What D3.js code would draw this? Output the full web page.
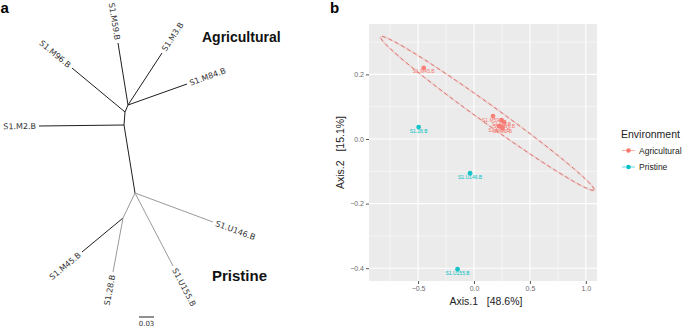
<!DOCTYPE html>
<html lang="en">
<head>
<meta charset="UTF-8">
<script src="https://d3js.org/d3.v7.min.js"></script>
<title>Tree and PCoA</title>
<style>
    body { margin: 0; background: white; }
    svg { display: block; }
    .tiplab { font-family: "DejaVu Sans", sans-serif; font-size: 8px; fill: #333; }
    .ggtext { font-family: "Liberation Sans", Arial, sans-serif; }
</style>
</head>
<body>
<svg id="chart"></svg>
<script>
// ---- panel a: unrooted tree (layout coordinates in substitutions/site) ----
const treeIds     = ["n1", "n2", "n3", "S1.M59.B", "S1.M3.B", "S1.M84.B", "S1.M96.B", "S1.M2.B",
                     "n4", "S1.U146.B", "S1.U155.B", "n5", "S1.M45.B", "S1.28.B"];
const treeParents = [null, "n1", "n2", "n3", "n3", "n3", "n2", "n1",
                     "n1", "n4", "n4", "n4", "n5", "n5"];
const treeX       = [0, 0.002, 0.008, -0.012, 0.076, 0.126, -0.104, -0.170,
                     0.022, 0.178, 0.098, -0.002, -0.084, -0.022];
const treeY       = [0, -0.026, -0.040, -0.164, -0.144, -0.082, -0.114, 0.002,
                     0.136, 0.194, 0.282, 0.186, 0.254, 0.294];
const treeGroup   = ["A", "A", "A", "A", "A", "A", "A", "A",
                     "A", "P", "P", "P", "A", "P"];
const scaleBarLen = 0.03;

// ---- panel b: PCoA ----
const sampleNames = ["S1.M45.B", "S1.M59.B", "S1.M3.B", "S1.M96.B", "S1.M84.B", "S1.M2.B",
                     "S1.28.B", "S1.U146.B", "S1.U155.B"];
const sampleEnv   = ["Agricultural", "Agricultural", "Agricultural", "Agricultural", "Agricultural", "Agricultural",
                     "Pristine", "Pristine", "Pristine"];
const axis1       = [-0.45, 0.17, 0.245, 0.27, 0.225, 0.255, -0.495, -0.035, -0.147];
const axis2       = [0.22, 0.071, 0.058, 0.052, 0.040, 0.035, 0.037, -0.106, -0.403];
const xTicks = [-0.5, 0.0, 0.5, 1.0];
const yTicks = [-0.4, -0.2, 0.0, 0.2];
const envLevels = ["Agricultural", "Pristine"];
const envColors = ["#F8766D", "#00BFC4"];

const W = 685, H = 328;
const svg = d3.select("#chart").attr("width", W).attr("height", H);

// ================= panel a =================
const tx = d3.scaleLinear().domain([0, 1]).range([124, 624]);
const ty = d3.scaleLinear().domain([0, 1]).range([125, 625]);
const nodes = treeIds.map((id, i) => ({id: id, parent: treeParents[i], x: treeX[i], y: treeY[i], g: treeGroup[i]}));
const byId = new Map(nodes.map(d => [d.id, d]));

const ga = svg.append("g");
ga.selectAll("line.branch")
  .data(nodes.filter(d => d.parent))
  .enter().append("line")
  .attr("x1", d => tx(byId.get(d.parent).x))
  .attr("y1", d => ty(byId.get(d.parent).y))
  .attr("x2", d => tx(d.x))
  .attr("y2", d => ty(d.y))
  .attr("stroke", d => d.g == "A" ? "#1e1e1e" : "#9a9a9a")
  .attr("stroke-width", 1);

const tips = nodes.filter(d => !d.id.startsWith("n"));
ga.selectAll("text.tiplab")
  .data(tips)
  .enter().append("text")
  .attr("class", "tiplab")
  .each(function(d) {
      const p = byId.get(d.parent);
      const dx = tx(d.x) - tx(p.x), dy = ty(d.y) - ty(p.y);
      const len = Math.sqrt(dx * dx + dy * dy);
      const ang = Math.atan2(dy, dx) * 180 / Math.PI;
      const lx = tx(d.x) + dx / len * 3, ly = ty(d.y) + dy / len * 3;
      const flip = Math.cos(ang * Math.PI / 180) < 0;
      d3.select(this)
        .attr("transform", `translate(${lx},${ly}) rotate(${flip ? ang + 180 : ang})`)
        .attr("text-anchor", flip ? "end" : "start")
        .attr("dy", "0.35em")
        .text(d.id);
  });

// scale bar
ga.append("line")
  .attr("x1", tx(0.03)).attr("x2", tx(0.03 + scaleBarLen))
  .attr("y1", 317).attr("y2", 317)
  .attr("stroke", "#222").attr("stroke-width", 1);
ga.append("text")
  .attr("class", "tiplab")
  .attr("x", (tx(0.03) + tx(0.03 + scaleBarLen)) / 2).attr("y", 326)
  .attr("text-anchor", "middle").style("font-size", "7px")
  .text(scaleBarLen.toFixed(2));

ga.append("text").attr("class", "ggtext")
  .attr("x", 202).attr("y", 41.5)
  .style("font-size", "14px").style("font-weight", "bold").attr("fill", "#111")
  .text("Agricultural");
ga.append("text").attr("class", "ggtext")
  .attr("x", 212).attr("y", 280.5)
  .style("font-size", "15px").style("font-weight", "bold").attr("fill", "#111")
  .text("Pristine");

svg.append("text").attr("class", "ggtext")
  .attr("x", 0.5).attr("y", 13)
  .style("font-size", "15px").style("font-weight", "bold")
  .text("a");
svg.append("text").attr("class", "ggtext")
  .attr("x", 330).attr("y", 13)
  .style("font-size", "15px").style("font-weight", "bold")
  .text("b");

// ================= panel b =================
const pL = 369, pR = 597, pT = 24, pB = 281;
const x = d3.scaleLinear().domain([(pL - 474) / 111.8, (pR - 474) / 111.8]).range([pL, pR]);
const y = d3.scaleLinear().domain([(139 - pB) / 323, (139 - pT) / 323]).range([pB, pT]);
const color = d3.scaleOrdinal().domain(envLevels).range(envColors);

const gb = svg.append("g");
gb.append("rect")
  .attr("x", pL).attr("y", pT).attr("width", pR - pL).attr("height", pB - pT)
  .attr("fill", "#ebebeb");

const xMinor = [-0.75, -0.25, 0.25, 0.75].filter(v => x(v) > pL && x(v) < pR);
const yMinor = [-0.3, -0.1, 0.1, 0.3].filter(v => y(v) > pT && y(v) < pB);
gb.selectAll("line.xminor").data(xMinor).enter().append("line")
  .attr("x1", d => x(d)).attr("x2", d => x(d)).attr("y1", pT).attr("y2", pB)
  .attr("stroke", "white").attr("stroke-width", 0.5);
gb.selectAll("line.yminor").data(yMinor).enter().append("line")
  .attr("y1", d => y(d)).attr("y2", d => y(d)).attr("x1", pL).attr("x2", pR)
  .attr("stroke", "white").attr("stroke-width", 0.5);
gb.selectAll("line.xmajor").data(xTicks).enter().append("line")
  .attr("x1", d => x(d)).attr("x2", d => x(d)).attr("y1", pT).attr("y2", pB)
  .attr("stroke", "white").attr("stroke-width", 1.1);
gb.selectAll("line.ymajor").data(yTicks).enter().append("line")
  .attr("y1", d => y(d)).attr("y2", d => y(d)).attr("x1", pL).attr("x2", pR)
  .attr("stroke", "white").attr("stroke-width", 1.1);

// axes
const xAxis = gb.append("g").attr("class", "ggtext")
  .attr("transform", `translate(0,${pB})`)
  .call(d3.axisBottom(x).tickValues(xTicks).tickFormat(d3.format(".1f")).tickSize(3).tickPadding(2));
const yAxis = gb.append("g").attr("class", "ggtext")
  .attr("transform", `translate(${pL},0)`)
  .call(d3.axisLeft(y).tickValues(yTicks).tickFormat(d3.format(".1f")).tickSize(3).tickPadding(2));
[xAxis, yAxis].forEach(a => {
    a.select(".domain").remove();
    a.selectAll(".tick line").attr("stroke", "#555");
    a.selectAll(".tick text").attr("fill", "#6a6a6a").style("font-size", "7px")
     .style("font-family", "Liberation Sans, Arial, sans-serif");
});

// 95% normal data ellipse for the agricultural samples
const agr = d3.range(sampleNames.length).filter(i => sampleEnv[i] == "Agricultural");
const mx = d3.mean(agr, i => axis1[i]), my = d3.mean(agr, i => axis2[i]);
const n = agr.length;
const sxx = d3.sum(agr, i => (axis1[i] - mx) ** 2) / (n - 1);
const syy = d3.sum(agr, i => (axis2[i] - my) ** 2) / (n - 1);
const sxy = d3.sum(agr, i => (axis1[i] - mx) * (axis2[i] - my)) / (n - 1);
const ca = Math.sqrt(sxx), cb = sxy / ca, cc = Math.sqrt(syy - cb * cb);
const radius = Math.sqrt(2 * 5.786135); // qf(0.95, 2, 5)
const ell = d3.range(0, 61).map(k => {
    const t = k / 60 * 2 * Math.PI;
    return [mx + radius * ca * Math.cos(t), my + radius * (cb * Math.cos(t) + cc * Math.sin(t))];
});
const line = d3.line().x(d => x(d[0])).y(d => y(d[1]));
gb.append("path").attr("d", line(ell))
  .attr("fill", "none").attr("stroke", "#F8766D").attr("stroke-opacity", 0.18).attr("stroke-width", 2);
gb.append("path").attr("d", line(ell))
  .attr("fill", "none").attr("stroke", "#d9736c").attr("stroke-width", 1)
  .attr("stroke-dasharray", "4,3");

// points and labels
const idx = d3.range(sampleNames.length);
gb.selectAll("text.plab").data(idx).enter().append("text")
  .attr("class", "ggtext")
  .attr("x", i => x(axis1[i])).attr("y", i => y(axis2[i]) + 5.5)
  .attr("text-anchor", "middle")
  .style("font-size", "5px")
  .attr("fill", i => color(sampleEnv[i]))
  .text(i => sampleNames[i]);
gb.selectAll("circle.pt").data(idx).enter().append("circle")
  .attr("cx", i => x(axis1[i])).attr("cy", i => y(axis2[i]))
  .attr("r", 2.4)
  .attr("fill", i => color(sampleEnv[i]))
  .attr("fill-opacity", 0.9);

// axis titles
gb.append("text").attr("class", "ggtext")
  .attr("x", (pL + pR) / 2 + 3).attr("y", 304.5)
  .attr("text-anchor", "middle").style("font-size", "10.5px").attr("fill", "#222")
  .attr("xml:space", "preserve")
  .text("Axis.1   [48.6%]");
gb.append("text").attr("class", "ggtext")
  .attr("transform", `translate(343.5,${(pT + pB) / 2}) rotate(-90)`)
  .attr("text-anchor", "middle").style("font-size", "10.5px").attr("fill", "#222")
  .attr("xml:space", "preserve")
  .text("Axis.2   [15.1%]");

// legend
const lg = svg.append("g").attr("class", "ggtext");
lg.append("text").attr("x", 621).attr("y", 138)
  .style("font-size", "10.5px").attr("fill", "#222").text("Environment");
const keys = lg.selectAll("g.key").data(envLevels).enter().append("g")
  .attr("transform", (d, i) => `translate(0,${150.5 + i * 16.5})`);
keys.append("line").attr("x1", 622).attr("x2", 635).attr("y1", 0).attr("y2", 0)
  .attr("stroke", d => color(d)).attr("stroke-opacity", 0.6).attr("stroke-width", 1);
keys.append("circle").attr("cx", 628.5).attr("cy", 0).attr("r", 2.2)
  .attr("fill", d => color(d));
keys.append("text").attr("x", 639).attr("y", 3)
  .style("font-size", "8.5px").attr("fill", "#222").text(d => d);
</script>
</body>
</html>
